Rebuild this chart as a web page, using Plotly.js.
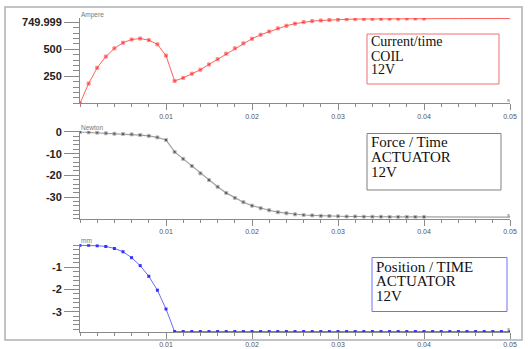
<!DOCTYPE html>
<html>
<head>
<meta charset="utf-8">
<script src="https://cdn.plot.ly/plotly-3.0.1.min.js"></script>
<style>html,body{margin:0;padding:0;background:#fff;}#chart{width:528px;height:349px;}</style>
</head>
<body>
<div id="chart"></div>
<script>
// ---- data ----
var time = [0,0.001,0.002,0.003,0.004,0.005,0.006,0.007,0.008,0.009,0.010,
  0.011,0.012,0.013,0.014,0.015,0.016,0.017,0.018,0.019,0.020,
  0.021,0.022,0.023,0.024,0.025,0.026,0.027,0.028,0.029,0.030,
  0.031,0.032,0.033,0.034,0.035,0.036,0.037,0.038,0.039,0.040,
  0.041,0.042,0.043,0.044,0.045,0.046,0.047,0.048,0.049,0.050];
var currentA = [0,183,329,433,509,561,591,600,585,546,442,
  207,235,274,311,360,408,460,509,555,598,
  635,665,694,718,738,752,761,767,772,775,
  778,780,781,782,783,784,784,785,785,785,
  785,785,785,785,785,785,785,785,785,785];
var forceN = [0,-0.15,-0.3,-0.6,-0.8,-0.9,-1.1,-1.4,-1.8,-2.5,-3.7,
  -9.2,-12.4,-15.7,-19.1,-22.2,-25.3,-28.1,-30.4,-32.4,-34.0,
  -35.2,-36.1,-37.0,-37.5,-38.0,-38.3,-38.5,-38.7,-38.8,-38.9,
  -39.0,-39.0,-39.1,-39.1,-39.1,-39.2,-39.2,-39.2,-39.2,-39.2,
  -39.3,-39.3,-39.3,-39.3,-39.3,-39.3,-39.3,-39.3,-39.3,-39.3];
var positionMM = [0,0,-0.02,-0.05,-0.14,-0.29,-0.56,-0.92,-1.40,-2.03,-2.88,
  -3.9,-3.9,-3.9,-3.9,-3.9,-3.9,-3.9,-3.9,-3.9,-3.9,
  -3.9,-3.9,-3.9,-3.9,-3.9,-3.9,-3.9,-3.9,-3.9,-3.9,
  -3.9,-3.9,-3.9,-3.9,-3.9,-3.9,-3.9,-3.9,-3.9,-3.9,
  -3.9,-3.9,-3.9,-3.9,-3.9,-3.9,-3.9,-3.9,-3.9,-3.9];
var xTickVals = [0.01,0.02,0.03,0.04,0.05];
var xTickText = ['0.01','0.02','0.03','0.04','0.05'];
var yTickVals1 = [250,500,749.999], yTickText1 = ['250','500','749.999'];
var yTickVals2 = [0,-10,-20,-30], yTickText2 = ['0','-10','-20','-30'];
var yTickVals3 = [-1,-2,-3], yTickText3 = ['-1','-2','-3'];
var units = ['Ampere','Newton','mm'];
var boxText1 = ['Current/time','COIL','12V'];
var boxText2 = ['Force / Time','ACTUATOR','12V'];
var boxText3 = ['Position / TIME','ACTUATOR','12V'];

// ---- helpers: pixel -> paper ----
var L = 80, R = 18, W = 528, H = 349;
function px(x){ return (x - L) / (W - L - R); }
function py(y){ return (H - y) / H; }

var markSize = time.map(function(t){ return t <= 0.0405 ? 3 : 0; });

var traces = [
  {x: time, y: currentA, xaxis:'x', yaxis:'y', mode:'lines+markers',
   line:{color:'#ff6060', width:1}, marker:{color:'#ff2020', size:markSize, symbol:'square'}},
  {x: time, y: forceN, xaxis:'x2', yaxis:'y2', mode:'lines+markers',
   line:{color:'#a0a0a0', width:1.2}, marker:{color:'#303030', size:markSize, symbol:'square'}},
  {x: time, y: positionMM, xaxis:'x3', yaxis:'y3', mode:'lines+markers',
   line:{color:'#6a6aff', width:1}, marker:{color:'#3030ff', size:3, symbol:'square'}}
];

function xax(anchor){
  return {anchor: anchor, domain:[0,1], range:[0,0.05], showgrid:false, zeroline:false,
    showline:true, linecolor:'#8a8a8a', linewidth:1,
    tickmode:'array', tickvals:xTickVals, ticktext:xTickText,
    ticks:'outside', ticklen:6, tickcolor:'#8a8a8a', tickwidth:1,
    minor:{dtick:0.002, tick0:0, ticks:'outside', ticklen:3, tickcolor:'#8a8a8a', tickwidth:1},
    tickfont:{family:'Liberation Sans, Arial', size:7, color:'#555'}, fixedrange:true};
}
function yax(anchor, dom, rng, tv, tt, mdt){
  return {anchor: anchor, domain:dom, range:rng, showgrid:false, zeroline:false,
    showline:true, linecolor:'#8a8a8a', linewidth:1,
    tickmode:'array', tickvals:tv, ticktext:tt,
    ticks:'outside', ticklen:15, tickcolor:'#8a8a8a', tickwidth:1,
    minor:{dtick:mdt, tick0:0, ticks:'outside', ticklen:6, tickcolor:'#8a8a8a', tickwidth:1},
    tickfont:{family:'Liberation Sans, Arial', size:11, color:'#222', weight:'bold'}, fixedrange:true};
}

var annotations = [];
function txt(x, y, s, size, color, family){
  annotations.push({xref:'paper', yref:'paper', x:px(x), y:py(y), text:s, showarrow:false,
    xanchor:'left', yanchor:'middle', font:{family:family, size:size, color:color}});
}
var unitY = [15, 127.5, 241];
units.forEach(function(u,i){ txt(79, unitY[i], u, 6.5, '#777', 'Liberation Sans, Arial'); });
[100, 215, 329].forEach(function(y){ txt(505, y, 's', 6, '#777', 'Liberation Sans, Arial'); });
var serif = 'Liberation Serif, Times New Roman, serif';
[42, 56.5, 69.5].forEach(function(y,i){ txt(369, y, boxText1[i], 14, '#111', serif); });
[142.3, 156.8, 171.5].forEach(function(y,i){ txt(369, y, boxText2[i], 15, '#111', serif); });
[266.7, 281.2, 295.8].forEach(function(y,i){ txt(374, y, boxText3[i], 15, '#111', serif); });

function rect(x0,y0,x1,y1,color,w){
  return {type:'rect', xref:'paper', yref:'paper', x0:px(x0), x1:px(x1), y0:py(y1), y1:py(y0),
    line:{color:color, width:w}, fillcolor:'rgba(0,0,0,0)', layer:'above'};
}
var shapes = [
  rect(5, 7, 522, 340, '#b0b0b0', 1.5),
  rect(367, 34, 499, 84, '#f07070', 1),
  rect(367, 133.5, 501, 190, '#808080', 1),
  rect(372, 257.5, 507, 311.5, '#7070ff', 1)
];

var layout = {
  width: W, height: H, margin:{l:L, r:R, t:0, b:0}, showlegend:false,
  paper_bgcolor:'#fff', plot_bgcolor:'#fff',
  xaxis: xax('y'), xaxis2: xax('y2'), xaxis3: xax('y3'),
  yaxis: yax('x', [0.704, 0.9484], [0, 790], yTickVals1, yTickText1, 50),
  yaxis2: yax('x2', [0.3734, 0.6249], [-40, 0.5], yTickVals2, yTickText2, 2),
  yaxis3: yax('x3', [0.0487, 0.3003], [-3.92, 0.05], yTickVals3, yTickText3, 0.2),
  annotations: annotations, shapes: shapes
};
Plotly.newPlot('chart', traces, layout, {displayModeBar:false, staticPlot:true});
</script>
</body>
</html>
